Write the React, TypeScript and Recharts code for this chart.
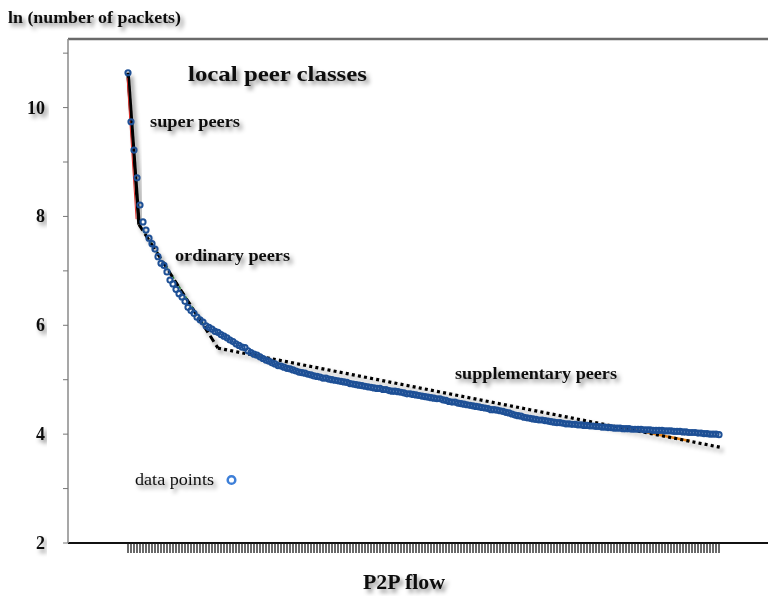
import React from 'react'
import {
  ComposedChart,
  Scatter,
  Line,
  XAxis,
  YAxis,
} from 'recharts'

/* ─── Data: ln(packets) per P2P flow, ranked ─── */

const packetsLn = [
  10.64, 9.74, 9.22, 8.71, 8.21, 7.9, 7.75, 7.6, 7.5, 7.4,
  7.26, 7.14, 7.1, 6.98, 6.83, 6.76, 6.66, 6.58, 6.52, 6.44,
  6.33, 6.27, 6.22, 6.15, 6.1, 6.06, 5.99, 5.96, 5.93, 5.89,
  5.87, 5.83, 5.8, 5.77, 5.73, 5.7, 5.66, 5.63, 5.6, 5.59,
  5.53, 5.5, 5.47, 5.45, 5.42, 5.39, 5.36, 5.34, 5.31, 5.29,
  5.26, 5.25, 5.23, 5.21, 5.2, 5.18, 5.16, 5.14, 5.13, 5.12,
  5.1, 5.09, 5.07, 5.06, 5.05, 5.03, 5.03, 5.01, 5.0, 4.99,
  4.98, 4.97, 4.96, 4.95, 4.93, 4.92, 4.91, 4.9, 4.89, 4.88,
  4.87, 4.86, 4.85, 4.84, 4.84, 4.82, 4.82, 4.8, 4.79, 4.79,
  4.78, 4.77, 4.76, 4.74, 4.74, 4.73, 4.72, 4.71, 4.7, 4.69,
  4.68, 4.67, 4.66, 4.65, 4.65, 4.63, 4.62, 4.6, 4.59, 4.59,
  4.57, 4.56, 4.55, 4.54, 4.53, 4.52, 4.51, 4.5, 4.49, 4.48,
  4.47, 4.45, 4.45, 4.44, 4.43, 4.42, 4.4, 4.39, 4.37, 4.35,
  4.34, 4.33, 4.31, 4.3, 4.29, 4.28, 4.27, 4.26, 4.26, 4.25,
  4.24, 4.23, 4.22, 4.21, 4.21, 4.2, 4.19, 4.19, 4.18, 4.18,
  4.17, 4.17, 4.16, 4.16, 4.15, 4.15, 4.14, 4.14, 4.13, 4.13,
  4.12, 4.12, 4.11, 4.11, 4.11, 4.1, 4.1, 4.1, 4.09, 4.09,
  4.09, 4.09, 4.08, 4.08, 4.08, 4.07, 4.07, 4.07, 4.07, 4.06,
  4.06, 4.06, 4.05, 4.05, 4.05, 4.04, 4.04, 4.03, 4.03, 4.03,
  4.02, 4.02, 4.01, 4.01, 4.0, 4.0, 4.0, 3.99,
]

const flowPoints = packetsLn.map((y, i) => ({ x: i, y }))
const flowTicks = packetsLn.map((_, i) => i)

// piecewise fits for the three peer classes
const superFit = [{ x: 0, y: 10.64 }, { x: 3.67, y: 7.85 }]
const superFitRed = [{ x: -0.3, y: 10.55 }, { x: 2.7, y: 7.95 }]
const ordinaryFit = [{ x: 3.67, y: 7.85 }, { x: 30, y: 5.58 }]
const ordinaryFitGreen = [{ x: 4, y: 7.83 }, { x: 25.7, y: 5.97 }]
const supplementaryFit = [{ x: 30, y: 5.58 }, { x: 197.3, y: 3.76 }]
const orangeFitA = [{ x: 40.7, y: 5.47 }, { x: 44.7, y: 5.42 }]
const orangeFitB = [{ x: 164, y: 4.13 }, { x: 187.3, y: 3.875 }]

const yTicks = [2, 3, 4, 5, 6, 7, 8, 9, 10, 11]
const yLabelled = [2, 4, 6, 8, 10]

/* ─── Constants ─── */

const W = 768
const H = 596
const SERIF = '"Liberation Serif", "Times New Roman", serif'

function YTick({ x, y, payload }: { x: number; y: number; payload: { value: number } }) {
  if (!yLabelled.includes(payload.value)) return <g />
  return (
    <text
      x={x - 16}
      y={y}
      textAnchor="end"
      dominantBaseline="central"
      fontFamily={SERIF}
      fontWeight="bold"
      fontSize={18}
      fill="#111"
      filter="url(#soft)"
    >
      {payload.value}
    </text>
  )
}

// label with width stretched to what the picture shows
function Label({ x, y, w, size, bold = true, children }: {
  x: number; y: number; w: number; size: number; bold?: boolean; children: string
}) {
  return (
    <text
      x={x}
      y={y}
      fontSize={size}
      fontWeight={bold ? 'bold' : 'normal'}
      textLength={w}
      lengthAdjust="spacingAndGlyphs"
    >
      {children}
    </text>
  )
}

export default function App() {
  return (
    <div style={{ position: 'fixed', left: 0, top: 0, width: W, height: H, background: '#fff' }}>
      <ComposedChart width={W} height={H} margin={{ top: 38, right: 0, bottom: 0, left: 0 }}>
        <XAxis
          xAxisId="top"
          orientation="top"
          type="number"
          dataKey="x"
          domain={[-20, 213.33]}
          height={1}
          tick={false}
          tickLine={false}
          axisLine={{ stroke: '#6a6a6a', strokeWidth: 2.5 }}
        />
        <XAxis
          type="number"
          dataKey="x"
          domain={[-20, 213.33]}
          ticks={flowTicks}
          interval={0}
          height={53}
          tickSize={10}
          tickFormatter={() => ''}
          tickLine={{ stroke: '#1a1a1a', strokeWidth: 1.3 }}
          axisLine={{ stroke: '#111', strokeWidth: 2 }}
        />
        <YAxis
          type="number"
          dataKey="y"
          domain={[2, 11.26]}
          ticks={yTicks}
          interval={0}
          width={68}
          tickSize={5}
          tick={YTick}
          tickLine={{ stroke: '#777', strokeWidth: 1 }}
          axisLine={{ stroke: '#8a8a8a', strokeWidth: 1.5 }}
        />

        <Scatter
          data={flowPoints}
          dataKey="y"
          isAnimationActive={false}
          shape={(p: { cx: number; cy: number }) => (
            <circle cx={p.cx} cy={p.cy} r={2.6} fill="none" stroke="#1e5096" strokeWidth={2} />
          )}
        />

        <Line data={orangeFitA} dataKey="y" type="linear" stroke="#f08a1c" strokeWidth={2.5} dot={false} isAnimationActive={false} />
        <Line data={orangeFitB} dataKey="y" type="linear" stroke="#f08a1c" strokeWidth={2.5} dot={false} isAnimationActive={false} />
        <Line data={supplementaryFit} dataKey="y" type="linear" stroke="#000" strokeWidth={3.2} strokeDasharray="3 3.2" dot={false} isAnimationActive={false} filter="url(#soft)" />
        <Line data={ordinaryFitGreen} dataKey="y" type="linear" stroke="#2f9a3a" strokeWidth={1.5} strokeDasharray="3 3" dot={false} isAnimationActive={false} />
        <Line data={ordinaryFit} dataKey="y" type="linear" stroke="#000" strokeWidth={3} strokeDasharray="7 4" dot={false} isAnimationActive={false} filter="url(#soft)" />
        <Line data={superFit} dataKey="y" type="linear" stroke="#000" strokeWidth={3.5} dot={false} isAnimationActive={false} filter="url(#soft)" />
        <Line data={superFitRed} dataKey="y" type="linear" stroke="#e0302a" strokeWidth={1} dot={false} isAnimationActive={false} />
      </ComposedChart>

      <svg width={W} height={H} style={{ position: 'absolute', left: 0, top: 0, pointerEvents: 'none' }}>
        <defs>
          <filter id="soft" x="-20%" y="-30%" width="140%" height="180%">
            <feDropShadow dx="3" dy="3.5" stdDeviation="2" floodColor="#000" floodOpacity="0.45" />
          </filter>
        </defs>
        <g fontFamily={SERIF} fill="#111" filter="url(#soft)">
          <Label x={8} y={23} w={173} size={17}>ln (number of packets)</Label>
          <Label x={188} y={81} w={179} size={21}>local peer classes</Label>
          <Label x={150} y={127} w={90} size={17}>super peers</Label>
          <Label x={175} y={261} w={115} size={17}>ordinary peers</Label>
          <Label x={455} y={379} w={162} size={17}>supplementary peers</Label>
          <Label x={135} y={485} w={79} size={17} bold={false}>data points</Label>
          <Label x={363} y={589} w={82} size={21}>P2P flow</Label>
        </g>
        <circle cx={231.5} cy={480} r={3.8} fill="none" stroke="#3d7fd8" strokeWidth={2.5} />
      </svg>
    </div>
  )
}
